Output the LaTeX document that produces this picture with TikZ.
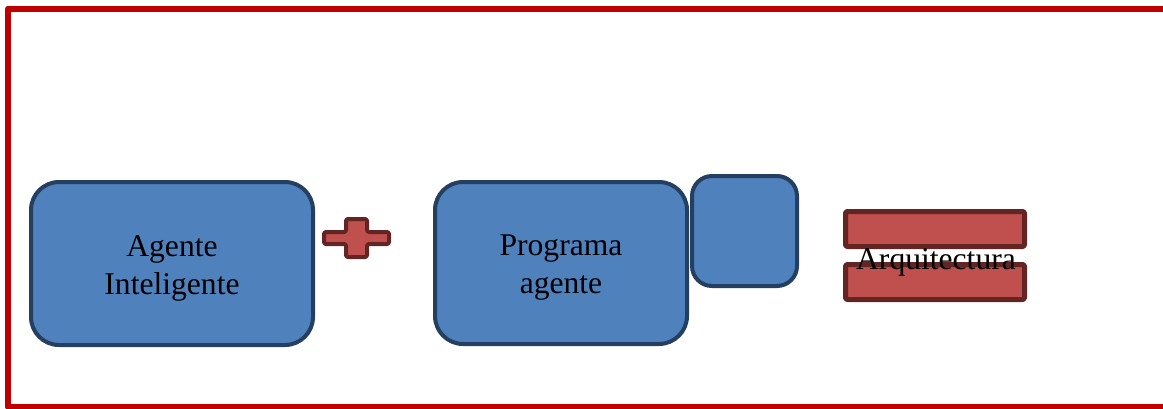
\documentclass[tikz,border=0pt]{standalone}
\usepackage{fontspec}
\setmainfont{Liberation Serif}
\usepackage{xcolor}
\usepackage{tikz}

\definecolor{boxfill}{HTML}{4F81BD}
\definecolor{boxline}{HTML}{243F60}
\definecolor{opfill}{HTML}{C0504D}
\definecolor{opline}{HTML}{632523}
\definecolor{framered}{HTML}{C00000}

\begin{document}
\begin{tikzpicture}[x=0.75pt,y=-0.75pt,line join=round,
  agentbox/.style={draw=boxline,fill=boxfill,line width=3pt,inner sep=0pt},
  boxtext/.style={inner sep=0pt,align=center,font=\fontsize{23.7}{28.5}\selectfont},
  opshape/.style={draw=opline,fill=opfill,line width=3pt,rounded corners=1.5pt}]
  \useasboundingbox (0,0) rectangle (1163,408);
  \clip (0,0) rectangle (1163,408);
  \draw[framered,line width=4.5pt] (8,8.5) rectangle (1180,406.5);
  \node[agentbox,minimum width=211.5pt,minimum height=122.25pt,rounded corners=21pt] (AI) at (172,263.5) {};
  \node[boxtext] (AIt) at (172,268.5) {Agente\\Inteligente};
  \draw[opshape] (324,232) -- (346,232) -- (346,219) -- (367,219) -- (367,232) -- (389,232)
    -- (389,244) -- (367,244) -- (367,257) -- (346,257) -- (346,244) -- (324,244) -- cycle;
  \node[agentbox,minimum width=189pt,minimum height=121.5pt,rounded corners=21pt] (PA) at (561,263) {};
  \node[boxtext] (PAt) at (561,268) {Programa\\agente};
  \node[agentbox,minimum width=78.75pt,minimum height=82.5pt,rounded corners=15pt] (SB) at (744.5,231) {};
  \draw[opshape,line width=3.75pt] (845.5,211.5) rectangle (1024.5,246.5);
  \draw[opshape,line width=3.75pt] (845.5,264.5) rectangle (1024.5,299.5);
  \node[boxtext] (AR) at (936,262) {Arquitectura};
\end{tikzpicture}
\end{document}
